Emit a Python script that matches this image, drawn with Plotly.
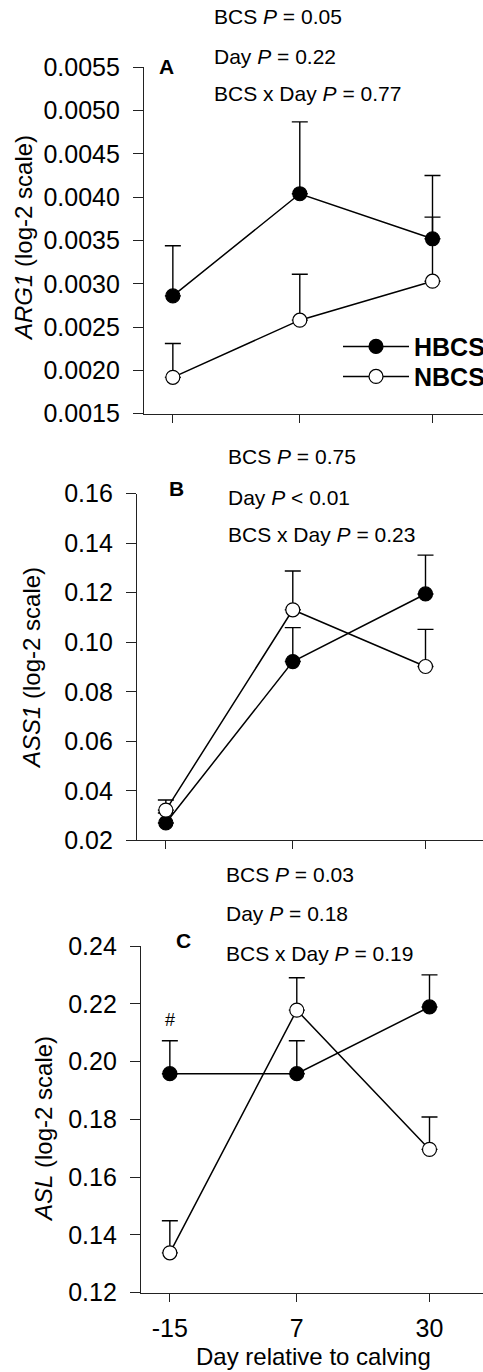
import plotly.graph_objects as go

# ---------------- data ----------------
days = [-15, 7, 30]

arg1_hbcs = [0.00286, 0.00404, 0.00352]
arg1_hbcs_se = [0.00058, 0.00083, 0.00073]
arg1_nbcs = [0.00192, 0.00258, 0.00303]
arg1_nbcs_se = [0.00039, 0.00053, 0.00074]

ass1_hbcs = [0.0270, 0.0922, 0.1195]
ass1_hbcs_se = [0.0040, 0.0137, 0.0157]
ass1_nbcs = [0.0322, 0.1131, 0.0902]
ass1_nbcs_se = [0.0041, 0.0157, 0.0150]

asl_hbcs = [0.1958, 0.1958, 0.2189]
asl_hbcs_se = [0.0114, 0.0114, 0.0111]
asl_nbcs = [0.1338, 0.2178, 0.1696]
asl_nbcs_se = [0.0111, 0.0112, 0.0112]

stats_a = ["BCS <i>P</i> = 0.05", "Day <i>P</i> = 0.22", "BCS x Day <i>P</i> = 0.77"]
stats_b = ["BCS <i>P</i> = 0.75", "Day <i>P</i> < 0.01", "BCS x Day <i>P</i> = 0.23"]
stats_c = ["BCS <i>P</i> = 0.03", "Day <i>P</i> = 0.18", "BCS x Day <i>P</i> = 0.19"]

# ---------------- layout helpers ----------------
# The figure is slightly wider than the 483px window: the right edge is cropped,
# like in the reference, where the axes and legend run off the image.
W, H = 495, 1372
FONT = "Arial, Liberation Sans, sans-serif"
AXC = "#222222"
PX_PER_DAY = 5.77


def px(x):
    return x / W


def py(y):
    return 1 - y / H


def xend(x0):
    # day value at the right edge of the figure for an axis starting at pixel x0 (= day -20)
    return -20 + (W - x0) / PX_PER_DAY


fig = go.Figure()

panels = [
    ("x", "y", arg1_hbcs, arg1_hbcs_se, arg1_nbcs, arg1_nbcs_se, True),
    ("x2", "y2", ass1_hbcs, ass1_hbcs_se, ass1_nbcs, ass1_nbcs_se, False),
    ("x3", "y3", asl_hbcs, asl_hbcs_se, asl_nbcs, asl_nbcs_se, False),
]

for xa, ya, h, hse, n, nse, sl in panels:
    for name, vals, se, fill, lg in [("HBCS", h, hse, "black", "legend"),
                                     ("NBCS", n, nse, "white", "legend2")]:
        fig.add_trace(go.Scatter(
            x=days, y=vals, name=name, mode="lines+markers",
            xaxis=xa, yaxis=ya, showlegend=sl, legend=lg,
            line=dict(color="black", width=1.5),
            marker=dict(size=14, color=fill, line=dict(color="black", width=1.2)),
            error_y=dict(type="data", symmetric=False, array=se,
                         arrayminus=[0] * len(se), color="black",
                         thickness=1.4, width=8),
        ))

common_x = dict(showgrid=False, zeroline=False, showline=True, linecolor=AXC,
                linewidth=1.2, ticks="outside", ticklen=8, tickwidth=1.2,
                tickcolor=AXC, tickvals=days, ticktext=[str(d) for d in days],
                automargin=False,
                tickfont=dict(family=FONT, size=25, color="black"))
common_y = dict(showgrid=False, zeroline=False, showline=True, linecolor=AXC,
                linewidth=1.2, ticks="outside", ticklen=10, tickwidth=1.2,
                tickcolor=AXC, tickfont=dict(family=FONT, size=25, color="black"),
                automargin=False, ticklabelstandoff=8)

leg_common = dict(xanchor="left", yanchor="middle", bgcolor="rgba(0,0,0,0)",
                  itemwidth=66, tracegroupgap=0,
                  font=dict(family=FONT, size=25, color="black", weight="bold"))

fig.update_layout(
    template="none",
    width=W, height=H, autosize=False,
    margin=dict(l=0, r=0, t=0, b=0, pad=0, autoexpand=False),
    paper_bgcolor="white", plot_bgcolor="white",
    font=dict(family=FONT, color="black"),
    xaxis=dict(common_x, domain=[px(144), 1], range=[-20, xend(144)],
               showticklabels=False, anchor="y"),
    yaxis=dict(common_y, domain=[py(413.7), py(67.3)], range=[0.0015, 0.0055],
               tickvals=[0.0015 + 0.0005 * i for i in range(9)],
               tickformat=".4f", anchor="x"),
    xaxis2=dict(common_x, domain=[px(137), 1], range=[-20, xend(137)],
                showticklabels=False, anchor="y2"),
    yaxis2=dict(common_y, domain=[py(840.3), py(493.7)], range=[0.02, 0.16],
                tickvals=[0.02 + 0.02 * i for i in range(8)],
                tickformat=".2f", anchor="x2"),
    xaxis3=dict(common_x, domain=[px(141), 1], range=[-20, xend(141)],
                showticklabels=True, anchor="y3", ticklabelstandoff=5),
    yaxis3=dict(common_y, domain=[py(1292.7), py(946)], range=[0.12, 0.24],
                tickvals=[0.12 + 0.02 * i for i in range(7)],
                tickformat=".2f", anchor="x3"),
    legend=dict(leg_common, x=px(338), y=py(346.7)),
    legend2=dict(leg_common, x=px(338), y=py(376.7)),
)

ann = []
for text, xc, yc in [("<i>ARG1</i> (log-2 scale)", 24, 238),
                     ("<i>ASS1</i> (log-2 scale)", 31, 668),
                     ("<i>ASL</i> (log-2 scale)", 43, 1129)]:
    ann.append(dict(text=text, x=px(xc), y=py(yc), xref="paper", yref="paper",
                    textangle=-90, showarrow=False, xanchor="center", yanchor="middle",
                    font=dict(family=FONT, size=24, color="black")))
ann.append(dict(text="Day relative to calving", x=px(313), y=py(1356),
                xref="paper", yref="paper", showarrow=False,
                xanchor="center", yanchor="middle",
                font=dict(family=FONT, size=24, color="black")))
for letter, xl, yc in [("A", 157, 67), ("B", 167, 488), ("C", 174, 941)]:
    ann.append(dict(text="<b>%s</b>" % letter, x=px(xl), y=py(yc), xref="paper",
                    yref="paper", showarrow=False, xanchor="left", yanchor="middle",
                    font=dict(family=FONT, size=21, color="black")))
for stats, xl, ys in [(stats_a, 212, [17, 56, 94]),
                      (stats_b, 226, [457, 497, 534]),
                      (stats_c, 224, [874, 913, 953])]:
    for s, yc in zip(stats, ys):
        ann.append(dict(text=s, x=px(xl), y=py(yc), xref="paper", yref="paper",
                        showarrow=False, xanchor="left", yanchor="middle",
                        font=dict(family=FONT, size=21, color="black")))
ann.append(dict(text="#", x=-15, y=0.2144, xref="x3", yref="y3", showarrow=False,
                xanchor="center", yanchor="middle",
                font=dict(family=FONT, size=18, color="black")))
fig.update_layout(annotations=ann)

fig.write_html("out.html",
               config={"displayModeBar": False},
               post_script="document.body.style.margin='0';"
                           "document.body.style.overflow='hidden';")
